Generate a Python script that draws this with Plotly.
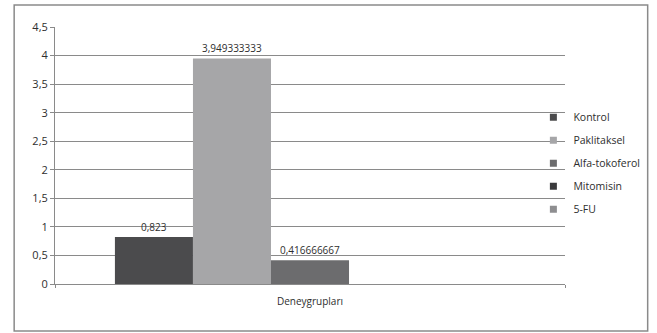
import plotly.graph_objects as go

categories = ["Deneygrupları"]
series_names = ["Kontrol", "Paklitaksel", "Alfa-tokoferol", "Mitomisin", "5-FU"]
kontrol = [0.823]
paklitaksel = [3.949333333]
alfa_tokoferol = [0.416666667]
mitomisin = [None]
fu5 = [None]
series_values = [kontrol, paklitaksel, alfa_tokoferol, mitomisin, fu5]
colors = ["#4b4b4d", "#a6a6a8", "#6c6c6e", "#3a3a3c", "#8e8e90"]
y_tick_vals = [0, 0.5, 1, 1.5, 2, 2.5, 3, 3.5, 4, 4.5]


def fmt(v):
    return "" if v is None else f"{v}".replace(".", ",")


fig = go.Figure()
for name, vals, col in zip(series_names, series_values, colors):
    fig.add_trace(go.Bar(
        x=categories, y=vals, name=name,
        marker=dict(color=col, line=dict(width=0)),
        text=[fmt(v) for v in vals], textposition="outside",
        textfont=dict(size=10, color="#2e2e2e", family="Open Sans"),
        cliponaxis=False, showlegend=False,
    ))
    fig.add_trace(go.Scatter(
        x=[None], y=[None], mode="markers", name=name,
        legendgroup=name,
        marker=dict(symbol="square", size=7, color=col),
        showlegend=True,
    ))

fig.update_layout(
    width=657, height=333,
    margin=dict(l=55, r=90, t=27, b=49),
    paper_bgcolor="white", plot_bgcolor="white",
    separators=", ",
    barmode="group", bargap=0.235, bargroupgap=0,
    font=dict(family="Open Sans", size=10, color="#2e2e2e"),
    legend=dict(
        x=0.938, xanchor="left", y=0.705, yanchor="top",
        bgcolor="rgba(0,0,0,0)", tracegroupgap=4, borderwidth=0,
        font=dict(size=10.5, color="#2e2e2e"), itemwidth=30,
    ),
    showlegend=True,
    xaxis=dict(
        type="category", showgrid=False, showline=True,
        linecolor="#8a8a8a", linewidth=1,
        ticks="outside", tickson="boundaries", ticklen=3, tickcolor="#8a8a8a",
        ticklabelstandoff=8,
        tickfont=dict(size=10, color="#2e2e2e"), fixedrange=True,
    ),
    yaxis=dict(
        range=[0, 4.5], tickvals=y_tick_vals, showgrid=True,
        gridcolor="#8a8a8a", gridwidth=1, showline=True,
        linecolor="#8a8a8a", linewidth=1, ticks="outside", ticklen=4,
        tickcolor="#8a8a8a", tickfont=dict(size=11, color="#2e2e2e"),
        zeroline=False, fixedrange=True,
    ),
    shapes=[dict(
        type="rect", xref="paper", yref="paper",
        x0=(14 - 55) / 512, x1=(650 - 55) / 512,
        y0=(284 - 331) / 257, y1=(284 - 5) / 257,
        line=dict(color="#8a8a8a", width=1.5), fillcolor="rgba(0,0,0,0)",
        layer="below",
    )],
)

fig.write_html("out.html")
